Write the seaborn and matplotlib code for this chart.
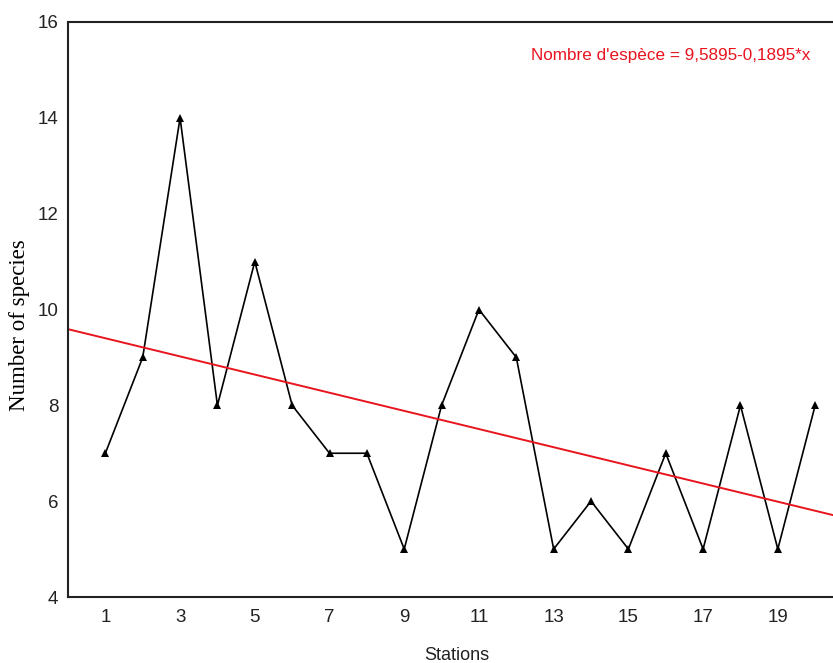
import matplotlib
matplotlib.use("Agg")
import matplotlib.pyplot as plt
import seaborn as sns
import numpy as np
import pandas as pd
from matplotlib.ticker import FixedLocator

stations = list(range(1, 21))
species = [7, 9, 14, 8, 11, 8, 7, 7, 5, 8, 10, 9, 5, 6, 5, 7, 5, 8, 5, 8]
intercept = 9.5895
slope = -0.1895
xtick_labels = [1, 3, 5, 7, 9, 11, 13, 15, 17, 19]
yticks = [4, 6, 8, 10, 12, 14, 16]

sns.set_theme(style="white")
plt.rcParams['font.family'] = ['Liberation Sans', 'DejaVu Sans']

fig = plt.figure(figsize=(8.33, 6.63), dpi=100)
ax = fig.add_axes([68/833, 1-597/663, 1-68/833 + 0.01, (597-22)/663])

df = pd.DataFrame({"Stations": stations, "Species": species})
sns.lineplot(data=df, x="Stations", y="Species", ax=ax, color="black",
             linewidth=1.2, marker="^", markersize=5.5, markeredgewidth=0)

xl = np.array([0, 21])
ax.plot(xl, intercept + slope * xl, color="#e8141e", linewidth=1.4)

ax.set_xlim(0, 20.7)
ax.set_ylim(4, 16)
ax.xaxis.set_major_locator(FixedLocator(xtick_labels))
ax.xaxis.set_minor_locator(FixedLocator([s for s in stations if s not in xtick_labels]))
ax.yaxis.set_major_locator(FixedLocator(yticks))
ax.yaxis.set_minor_locator(FixedLocator([]))
ax.tick_params(axis='both', which='both', direction='in', length=4, width=1.2,
               color='black', labelsize=13.5, labelcolor='#222222')
ax.tick_params(axis='y', pad=7)
ax.tick_params(axis='x', pad=9, top=False)

for side in ['left', 'bottom', 'top']:
    ax.spines[side].set_color('#222222')
    ax.spines[side].set_linewidth(1.5)
ax.spines['right'].set_visible(False)

ax.set_xlabel("Stations", fontsize=13, color='#222222')
ax.xaxis.set_label_coords((457 - 68) / 773.3, -(647 - 597) / 575)
ax.set_ylabel("Number of species", fontsize=16.5, color='black',
              family=['Liberation Serif', 'DejaVu Serif'])
ax.yaxis.set_label_coords(-(68 - 30) / 773.3, (597 - 325) / 575)

ax.text(0.9595, 0.9426, "Nombre d'espèce = 9,5895-0,1895*x", transform=ax.transAxes,
        color="#e8141e", fontsize=12.3, ha='right', va='center')

fig.savefig("out.png", dpi=100)
